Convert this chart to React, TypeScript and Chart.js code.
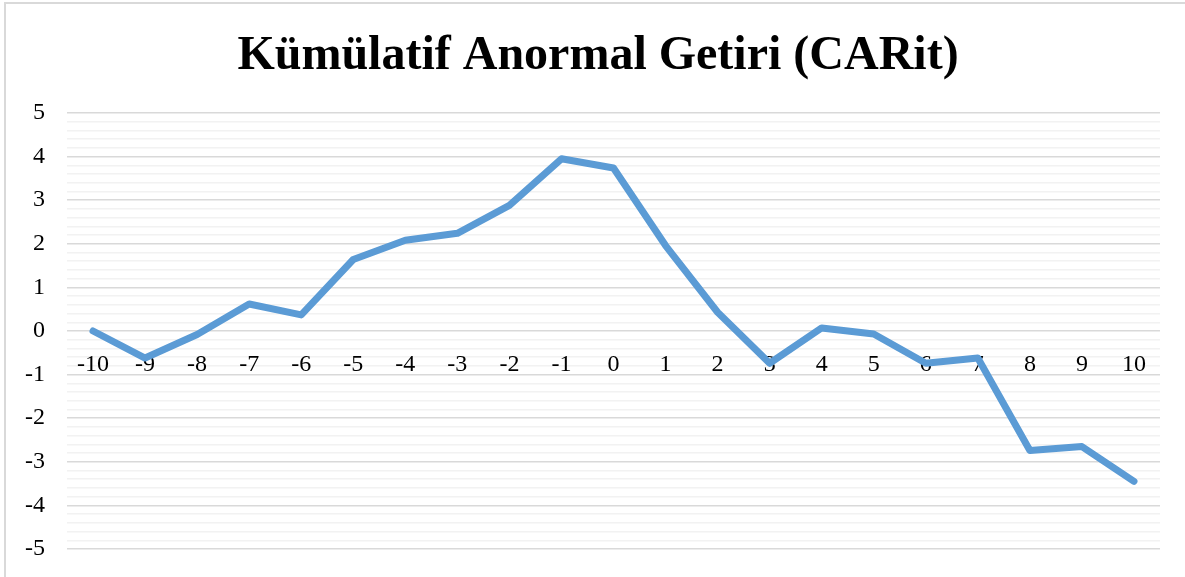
import React, { useEffect, useRef } from "react";
import { Chart, registerables } from "chart.js";

Chart.register(...registerables);

const TITLE = "Kümülatif Anormal Getiri (CARit)";
const categories = ["-10", "-9", "-8", "-7", "-6", "-5", "-4", "-3", "-2", "-1", "0", "1", "2", "3", "4", "5", "6", "7", "8", "9", "10"];
const carValues = [0.0, -0.62, -0.08, 0.62, 0.37, 1.64, 2.08, 2.24, 2.88, 3.95, 3.74, 1.96, 0.43, -0.74, 0.07, -0.07, -0.74, -0.62, -2.74, -2.65, -3.45];
const yMin = -5;
const yMax = 5;
const yMinorStep = 0.2;

const isMajor = (v: number) => Math.abs(v - Math.round(v)) < 1e-6;

const titleShift = {
  id: "titleShift",
  afterLayout(chart: any) {
    const t = chart.titleBlock;
    if (t) {
      t.left += 36;
    }
  },
};

export default function App() {
  const ref = useRef<HTMLCanvasElement | null>(null);

  useEffect(() => {
    if (!ref.current) return;
    const chart = new Chart(ref.current, {
      type: "line",
      data: {
        labels: categories,
        datasets: [
          {
            label: TITLE,
            data: carValues,
            borderColor: "#5B9BD5",
            backgroundColor: "#5B9BD5",
            borderWidth: 7,
            pointRadius: 0,
            pointHoverRadius: 0,
            tension: 0,
            borderJoinStyle: "round",
            borderCapStyle: "round",
          },
        ],
      },
      options: {
        animation: false,
        responsive: false,
        maintainAspectRatio: false,
        layout: { padding: { top: 0, left: 0, right: 25, bottom: 28 } },
        plugins: {
          legend: { display: false },
          tooltip: { enabled: false },
          title: {
            display: true,
            text: TITLE,
            color: "#000000",
            font: { family: "'Liberation Serif', 'Times New Roman', serif", size: 48, weight: "bold" },
            padding: { top: 28, bottom: 27.4 },
          },
        },
        scales: {
          x: {
            type: "category",
            position: { y: 0 },
            offset: true,
            afterFit: (scale: any) => {
              scale.height = 0;
            },
            grid: { display: false, drawTicks: false },
            border: { display: false },
            ticks: {
              color: "#000000",
              font: { family: "'Liberation Serif', 'Times New Roman', serif", size: 24 },
              padding: 19,
              maxRotation: 0,
              autoSkip: false,
            },
          },
          y: {
            type: "linear",
            min: yMin,
            max: yMax,
            afterFit: (scale: any) => {
              scale.width = 67;
              scale.paddingBottom = 0;
              scale.paddingTop = 0;
            },
            grid: {
              drawTicks: false,
              color: (ctx: any) => (isMajor(ctx.tick.value) ? "#d9d9d9" : "#f2f2f2"),
              lineWidth: 1.5,
            },
            border: { display: false },
            ticks: {
              stepSize: yMinorStep,
              autoSkip: false,
              color: "#000000",
              font: { family: "'Liberation Serif', 'Times New Roman', serif", size: 24 },
              padding: 22,
              callback: (v: any) => (isMajor(Number(v)) ? String(Math.round(Number(v))) : ""),
            },
          },
        },
      },
      plugins: [titleShift],
    });
    return () => chart.destroy();
  }, []);

  return (
    <div style={{ position: "fixed", left: 0, top: 0, width: 1185, height: 577, background: "#ffffff" }}>
      <div
        style={{
          position: "absolute",
          left: 4,
          top: 2,
          right: 0,
          bottom: 0,
          borderLeft: "2px solid #d9d9d9",
          borderTop: "2px solid #d9d9d9",
        }}
      />
      <canvas ref={ref} width={1185} height={577} style={{ position: "absolute", left: 0, top: 0, width: 1185, height: 577 }} />
    </div>
  );
}
